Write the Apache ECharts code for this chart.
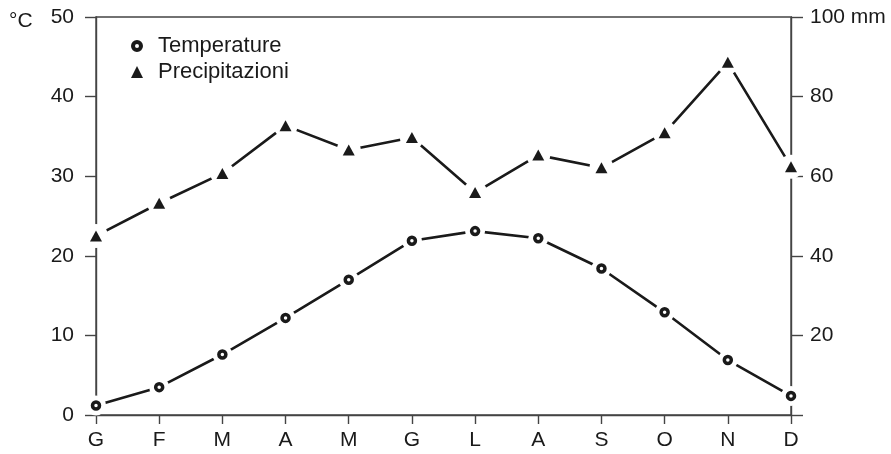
<!DOCTYPE html>
<html>
<head>
<meta charset="utf-8">
<script src="https://cdn.jsdelivr.net/npm/echarts@6/dist/echarts.min.js"></script>
<style>
  html, body { margin: 0; padding: 0; background: #fff; }
  #chart { width: 891px; height: 454px; }
</style>
</head>
<body>
<div id="chart"></div>
<script>
// Monthly climate data (Italian month initials)
const months = ['G', 'F', 'M', 'A', 'M', 'G', 'L', 'A', 'S', 'O', 'N', 'D'];
const temperature = [1.2, 3.5, 7.6, 12.2, 17.0, 21.9, 23.1, 22.2, 18.4, 12.9, 6.9, 2.4];      // °C
const precipitation = [45.0, 53.2, 60.7, 72.7, 66.6, 69.7, 55.9, 65.3, 62.1, 70.9, 88.6, 62.4]; // mm
const tempTicks = { min: 0, max: 50, interval: 10 };
const precTicks = { min: 0, max: 100, interval: 20 };

const ink = '#1a1a1a';
const axisInk = '#444';
const font = 'Liberation Sans, Arial, Helvetica, sans-serif';
// bold ring used as the temperature key
const ringIcon = 'path://M12,0A12,12,0,1,1,12,24A12,12,0,1,1,12,0ZM12,8A4,4,0,1,0,12,16A4,4,0,1,0,12,8Z';

const chart = echarts.init(document.getElementById('chart'), null, { renderer: 'canvas' });

// line on the bottom layer, a white halo that opens a gap around each point, marker on top
function layered(name, data, yAxisIndex, symbol, size, haloSize, itemStyle) {
  return [
    {
      name: name + ' line', type: 'line', data, yAxisIndex,
      showSymbol: false, symbol: 'none', silent: true,
      lineStyle: { color: ink, width: 2.6 }, z: 2, zlevel: 0
    },
    {
      name: name + ' halo', type: 'line', data, yAxisIndex,
      symbol: 'circle', symbolSize: haloSize, showSymbol: true, silent: true,
      lineStyle: { width: 0, color: 'rgba(0,0,0,0)' },
      itemStyle: { color: '#fff', borderWidth: 0 }, z: 3, zlevel: 1
    },
    {
      name, type: 'line', data, yAxisIndex,
      symbol, symbolSize: size, showSymbol: true,
      lineStyle: { width: 0, color: 'rgba(0,0,0,0)' },
      itemStyle, z: 4, zlevel: 2
    }
  ];
}

chart.setOption({
  animation: false,
  backgroundColor: '#fff',
  grid: {
    left: 96, right: 100, top: 17, bottom: 39,
    show: true, borderColor: axisInk, borderWidth: 1.4, backgroundColor: 'transparent'
  },
  legend: {
    orient: 'vertical', left: 126, top: 30,
    itemWidth: 12, itemHeight: 12, itemGap: 4,
    textStyle: { fontFamily: font, fontSize: 22, color: ink, padding: [0, 0, 0, 10] },
    data: [
      { name: 'Temperature', icon: ringIcon, itemStyle: { color: ink, borderWidth: 0 } },
      { name: 'Precipitazioni', icon: 'triangle', itemStyle: { color: ink, borderWidth: 0 } }
    ]
  },
  xAxis: {
    type: 'category', data: months, boundaryGap: false,
    axisLine: { lineStyle: { color: axisInk, width: 1.4 } },
    axisTick: { show: true, length: 9, inside: false, alignWithLabel: true, lineStyle: { color: axisInk, width: 1.4 } },
    axisLabel: { fontFamily: font, fontSize: 21, color: ink, margin: 15 },
    splitLine: { show: false }
  },
  yAxis: [
    {
      type: 'value', position: 'left', ...tempTicks,
      axisLine: { show: true, lineStyle: { color: axisInk, width: 1.4 } },
      axisTick: { show: true, length: 11, lineStyle: { color: axisInk, width: 1.4 } },
      axisLabel: { fontFamily: font, fontSize: 21, color: ink, margin: 22 },
      splitLine: { show: false }
    },
    {
      type: 'value', position: 'right', ...precTicks,
      axisLine: { show: true, lineStyle: { color: axisInk, width: 1.4 } },
      axisTick: { show: true, length: 12, lineStyle: { color: axisInk, width: 1.4 } },
      axisLabel: {
        fontFamily: font, fontSize: 21, color: ink, margin: 19,
        formatter: v => v === 0 ? '' : (v === 100 ? '100 mm' : String(v))
      },
      splitLine: { show: false }
    }
  ],
  graphic: [
    {
      type: 'text', left: 9, top: 11,
      style: { text: '°C', fontFamily: font, fontSize: 21, fill: ink }
    }
  ],
  series: [
    ...layered('Temperature', temperature, 0, 'circle', 7, 20,
      { color: '#fff', borderColor: ink, borderWidth: 3.5 }),
    ...layered('Precipitazioni', precipitation, 1, 'triangle', [12, 11], 24,
      { color: ink, borderWidth: 0 })
  ]
});
</script>
</body>
</html>
